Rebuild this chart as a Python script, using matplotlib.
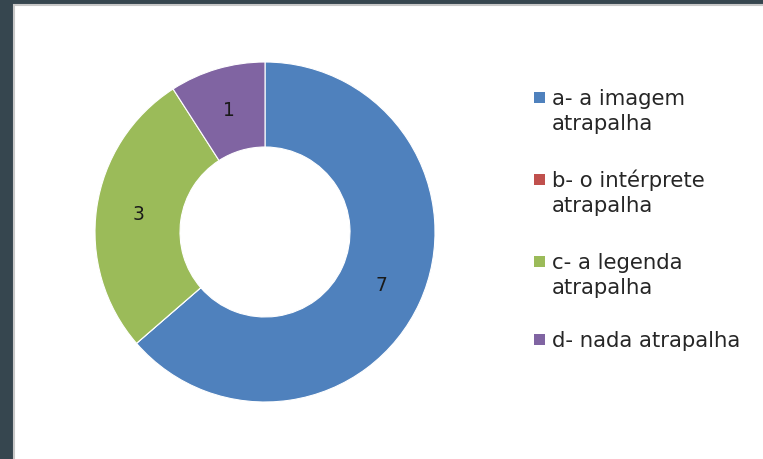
import numpy as np
import matplotlib.pyplot as plt
from matplotlib.patches import Rectangle

labels = ["a- a imagem\natrapalha", "b- o intérprete\natrapalha",
          "c- a legenda\natrapalha", "d- nada atrapalha"]
values = [7, 0, 3, 1]
colors = ["#4f81bd", "#c0504d", "#9bbb59", "#8064a2"]

W, H = 763, 460
fig = plt.figure(figsize=(W / 100, H / 100), dpi=100)
fig.patch.set_facecolor("#36464f")


def fx(px):
    return px / W


def fy(py):
    return 1 - py / H


# white chart area with a thin grey rim on the top and left
fig.patches.append(Rectangle((fx(14), -0.05), 1, fy(6) + 0.05, transform=fig.transFigure,
                             zorder=-5, facecolor="white", edgecolor="#c8c8c8", linewidth=1.5))

ax = fig.add_axes([fx(95), fy(403), fx(340), 340 / H])
wedges, _ = ax.pie(values, colors=colors, startangle=90, counterclock=False,
                   radius=1, wedgeprops=dict(width=0.5, edgecolor="white", linewidth=0.8))
ax.set_xlim(-1, 1)
ax.set_ylim(-1, 1)
ax.set_aspect("equal")
ax.axis("off")

# value labels in the middle of the ring
for w, v in zip(wedges, values):
    if v == 0:
        continue
    ang = np.deg2rad((w.theta1 + w.theta2) / 2)
    ax.text(0.75 * np.cos(ang), 0.75 * np.sin(ang), str(v), ha="center", va="center",
            fontsize=13.5, color="#1a1a1a")

# legend: square key next to the first line of each label
baselines = [105, 187, 269, 347]
for lab, col, yb in zip(labels, colors, baselines):
    fig.patches.append(Rectangle((fx(534), fy(yb - 1)), fx(11), 11 / H,
                                 transform=fig.transFigure, facecolor=col, edgecolor="none"))
    for i, line in enumerate(lab.split("\n")):
        fig.text(fx(552), fy(yb + 25 * i), line, ha="left", va="baseline",
                 fontsize=15.3, color="#262626")

fig.savefig("out.png", dpi=100)
